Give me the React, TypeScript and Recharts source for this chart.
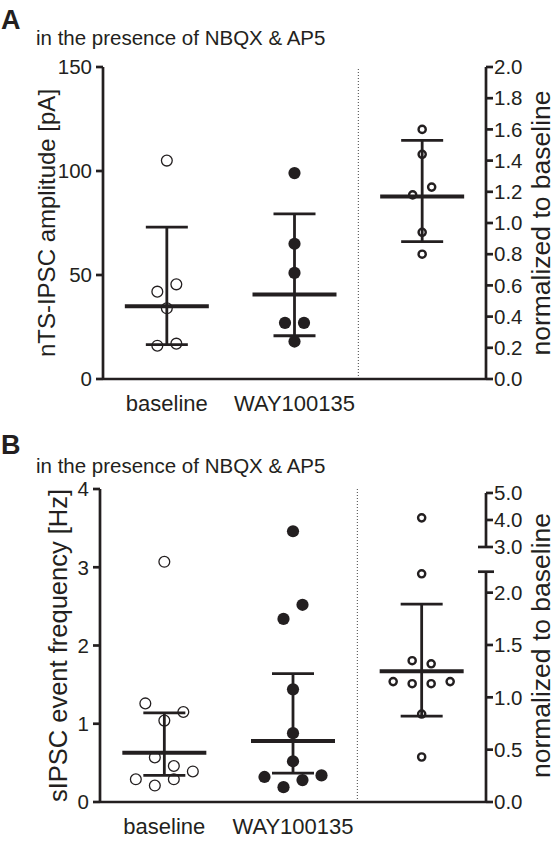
import React from 'react';
import { ComposedChart, Scatter, XAxis, YAxis, ErrorBar, ReferenceLine, Label } from 'recharts';

const INK = '#231f20';
const FONT = "'Liberation Sans', Arial, Helvetica, sans-serif";
const W = 557;

const TITLE = 'in the presence of NBQX & AP5';
const GROUPS = ['baseline', 'WAY100135'];
const RIGHT_LABEL = 'normalized to baseline';

// panel A: nTS-IPSC amplitude
const A_BASELINE = [105, 42, 45.5, 34, 16, 17];
const A_WAY = [99, 65, 51, 27, 27, 18];
const A_NORM = [1.6, 1.44, 1.18, 1.23, 0.94, 0.8];
const A_CENTER = [35, 40.6, 1.17];
const A_LOW = [16.5, 20.8, 0.88];
const A_HIGH = [73, 79.4, 1.53];
const A_LEFT_TICKS = [0, 50, 100, 150];
const A_RIGHT_TICKS = [0, 0.2, 0.4, 0.6, 0.8, 1, 1.2, 1.4, 1.6, 1.8, 2];

// panel B: sIPSC event frequency
const B_BASELINE = [3.07, 1.26, 1.04, 1.15, 0.29, 0.57, 0.29, 0.39, 0.21, 0.46];
const B_WAY = [3.46, 2.34, 2.52, 1.44, 0.88, 0.32, 0.19, 0.28, 0.34, 0.52];
const B_NORM = [4.08, 2.18, 1.35, 1.32, 1.15, 1.13, 1.13, 1.15, 0.84, 0.43];
const B_CENTER = [0.63, 0.78, 1.25];
const B_LOW = [0.34, 0.37, 0.82];
const B_HIGH = [1.14, 1.64, 1.89];
const B_LEFT_TICKS = [0, 1, 2, 3, 4];
const B_RIGHT_TICKS = [0, 0.5, 1, 1.5, 2, 3, 4, 5];

// broken right axis of panel B (lower part 0-2.2, upper part 3-5 compressed)
const B_LOWER_TOP = 2.2;
const B_UPPER_START = 3;
const B_UPPER_END = 5;
const B_UPPER_POS = 2.436;
const B_UPPER_SCALE = 0.258;
const B_RIGHT_TOP = 2.99;

const toBroken = (v: number) =>
  v <= B_LOWER_TOP + 0.3 ? v : B_UPPER_POS + (v - B_UPPER_START) * B_UPPER_SCALE;
const fromBroken = (d: number) =>
  d <= B_LOWER_TOP + 0.1 ? d : B_UPPER_START + (d - B_UPPER_POS) / B_UPPER_SCALE;
const same = (v: number) => v;

// prism-like scatter layout: close values share a row and spread sideways
function swarm(values: number[], pxPerUnit: number, gap = 15, step = 19, perRow = 4) {
  const order = values.map((_, i) => i).sort((a, b) => values[b] - values[a]);
  const clusters: number[][] = [];
  order.forEach((i, k) => {
    if (k === 0 || (values[order[k - 1]] - values[i]) * pxPerUnit > gap) clusters.push([i]);
    else clusters[clusters.length - 1].push(i);
  });
  const dx = values.map(() => 0);
  clusters.forEach((c) => {
    const members = [...c].sort((a, b) => a - b);
    for (let r = 0; r < members.length; r += perRow) {
      const row = members.slice(r, r + perRow);
      row.forEach((i, j) => {
        dx[i] = (j - (row.length - 1) / 2) * step;
      });
    }
  });
  return dx;
}

const points = (vals: number[], x: number, ppu: number, map = same) => {
  const mapped = vals.map(map);
  const dx = swarm(mapped, ppu);
  return mapped.map((y, i) => ({ x, y, dx: dx[i] }));
};

const openDot = (p: any) => (
  <circle cx={p.cx + p.payload.dx} cy={p.cy} r={5.4} fill="none" stroke={INK} strokeWidth={1.3} />
);
const filledDot = (p: any) => <circle cx={p.cx + p.payload.dx} cy={p.cy} r={6.1} fill={INK} />;
const smallDot = (p: any) => (
  <circle cx={p.cx + p.payload.dx} cy={p.cy} r={3.6} fill="none" stroke={INK} strokeWidth={2.4} />
);
const centerLine = (p: any) => (
  <line x1={p.cx - 42} x2={p.cx + 42} y1={p.cy} y2={p.cy} stroke={INK} strokeWidth={4} />
);

const axisStroke = { stroke: INK, strokeWidth: 2.7 };
const tickFont = { fontSize: 20.5, fill: INK };

interface PanelProps {
  height: number;
  marginTop: number;
  xAxisHeight: number;
  leftWidth: number;
  leftDomain: [number, number];
  leftTicks: number[];
  leftLabel: string;
  leftLabelSize: number;
  leftLabelOffset: number;
  rightDomain: [number, number];
  rightTicks: number[];
  rightFormat: (v: number) => string;
  baseline: number[];
  way: number[];
  norm: number[];
  center: number[];
  low: number[];
  high: number[];
  rightMap: (v: number) => number;
  broken?: boolean;
}

function Panel(props: PanelProps) {
  const {
    height, marginTop, xAxisHeight, leftWidth, leftDomain, leftTicks, leftLabel, leftLabelSize,
    leftLabelOffset, rightDomain, rightTicks, rightFormat, baseline, way, norm, center, low, high,
    rightMap, broken,
  } = props;
  const plotH = height - marginTop - 1 - xAxisHeight;
  const ppuL = plotH / (leftDomain[1] - leftDomain[0]);
  const ppuR = plotH / (rightDomain[1] - rightDomain[0]);
  const xPerPx = 3 / (W - leftWidth - 71);

  const leftStats = [0, 1].map((i) => ({
    x: i + 0.5,
    y: center[i],
    err: [center[i] - low[i], high[i] - center[i]],
  }));
  const rightStats = [
    {
      x: 2.5,
      y: rightMap(center[2]),
      err: [rightMap(center[2]) - rightMap(low[2]), rightMap(high[2]) - rightMap(center[2])],
    },
  ];
  const cap = 8 * xPerPx;

  return (
    <ComposedChart width={W} height={height} margin={{ top: marginTop, right: 0, bottom: 1, left: 0 }}>
      <XAxis
        type="number"
        dataKey="x"
        domain={[0, 3]}
        ticks={[0.5, 1.5]}
        interval={0}
        tickFormatter={(v: number) => GROUPS[Math.floor(v)]}
        tickLine={false}
        tickSize={0}
        tickMargin={16}
        height={xAxisHeight}
        axisLine={axisStroke}
        tick={{ fontSize: 22, fill: INK }}
        allowDataOverflow
      />
      <YAxis
        yAxisId="left"
        dataKey="y"
        type="number"
        domain={leftDomain}
        ticks={leftTicks}
        interval={0}
        width={leftWidth}
        tickSize={7}
        tickMargin={4}
        axisLine={axisStroke}
        tickLine={axisStroke}
        tick={tickFont}
        allowDataOverflow
      >
        <Label
          value={leftLabel}
          angle={-90}
          position="insideLeft"
          offset={leftLabelOffset}
          style={{ textAnchor: 'middle', fontSize: leftLabelSize, fill: INK }}
        />
      </YAxis>
      <YAxis
        yAxisId="right"
        orientation="right"
        dataKey="y"
        type="number"
        domain={rightDomain}
        ticks={rightTicks}
        tickFormatter={rightFormat}
        interval={0}
        width={71}
        tickSize={7}
        tickMargin={1}
        axisLine={broken ? false : axisStroke}
        tickLine={axisStroke}
        tick={tickFont}
        allowDataOverflow
      >
        <Label
          value={RIGHT_LABEL}
          angle={-90}
          position="insideRight"
          offset={16}
          style={{ textAnchor: 'middle', fontSize: 26.5, fill: INK }}
        />
      </YAxis>

      <ReferenceLine x={2} yAxisId="left" stroke="#444" strokeWidth={1} strokeDasharray="1 2" />

      {broken && (
        <>
          <ReferenceLine yAxisId="right" segment={[{ x: 3, y: 0 }, { x: 3, y: B_LOWER_TOP }]} stroke={INK} strokeWidth={2.7} ifOverflow="visible" />
          <ReferenceLine yAxisId="right" segment={[{ x: 3 - cap, y: B_LOWER_TOP }, { x: 3 + cap, y: B_LOWER_TOP }]} stroke={INK} strokeWidth={2.7} ifOverflow="visible" />
          <ReferenceLine yAxisId="right" segment={[{ x: 3, y: rightMap(B_UPPER_START) }, { x: 3, y: rightMap(B_UPPER_END) }]} stroke={INK} strokeWidth={2.7} ifOverflow="visible" />
          <ReferenceLine yAxisId="right" segment={[{ x: 3 - cap, y: rightMap(B_UPPER_START) }, { x: 3, y: rightMap(B_UPPER_START) }]} stroke={INK} strokeWidth={2.7} ifOverflow="visible" />
        </>
      )}

      <Scatter yAxisId="left" data={leftStats} dataKey="y" shape={centerLine} isAnimationActive={false}>
        <ErrorBar dataKey="err" direction="y" width={21} stroke={INK} strokeWidth={2.8} />
      </Scatter>
      <Scatter yAxisId="right" data={rightStats} dataKey="y" shape={centerLine} isAnimationActive={false}>
        <ErrorBar dataKey="err" direction="y" width={21} stroke={INK} strokeWidth={2.8} />
      </Scatter>

      <Scatter yAxisId="left" data={points(baseline, 0.5, ppuL)} dataKey="y" shape={openDot} isAnimationActive={false} />
      <Scatter yAxisId="left" data={points(way, 1.5, ppuL)} dataKey="y" shape={filledDot} isAnimationActive={false} />
      <Scatter yAxisId="right" data={points(norm, 2.5, ppuR, rightMap)} dataKey="y" shape={smallDot} isAnimationActive={false} />
    </ComposedChart>
  );
}

export default function App() {
  return (
    <div
      style={{
        position: 'absolute',
        left: 0,
        top: 0,
        width: W,
        height: 841,
        background: '#fff',
        fontFamily: FONT,
        color: INK,
      }}
    >
      <div style={{ position: 'absolute', left: 0, top: 0 }}>
        <Panel
          height={420}
          marginTop={67}
          xAxisHeight={40}
          leftWidth={103}
          leftDomain={[0, 150]}
          leftTicks={A_LEFT_TICKS}
          leftLabel="nTS-IPSC amplitude [pA]"
          leftLabelSize={24}
          leftLabelOffset={46.5}
          rightDomain={[0, 2]}
          rightTicks={A_RIGHT_TICKS}
          rightFormat={(v: number) => v.toFixed(1)}
          baseline={A_BASELINE}
          way={A_WAY}
          norm={A_NORM}
          center={A_CENTER}
          low={A_LOW}
          high={A_HIGH}
          rightMap={same}
        />
      </div>
      <div style={{ position: 'absolute', left: 0, top: 420 }}>
        <Panel
          height={421}
          marginTop={69}
          xAxisHeight={38}
          leftWidth={100}
          leftDomain={[0, 4]}
          leftTicks={B_LEFT_TICKS}
          leftLabel="sIPSC event frequency [Hz]"
          leftLabelSize={25.5}
          leftLabelOffset={57.5}
          rightDomain={[0, B_RIGHT_TOP]}
          rightTicks={B_RIGHT_TICKS.map(toBroken)}
          rightFormat={(v: number) => fromBroken(v).toFixed(1)}
          baseline={B_BASELINE}
          way={B_WAY}
          norm={B_NORM}
          center={B_CENTER}
          low={B_LOW}
          high={B_HIGH}
          rightMap={toBroken}
          broken
        />
      </div>
      <svg
        width={W}
        height={841}
        style={{ position: 'absolute', left: 0, top: 0, pointerEvents: 'none', fontFamily: FONT }}
      >
        <text x={1} y={28.5} fontSize={27} fontWeight="bold" fill={INK}>A</text>
        <text x={36} y={45} fontSize={20.5} fill={INK}>{TITLE}</text>
        <text x={1} y={453.5} fontSize={27} fontWeight="bold" fill={INK}>B</text>
        <text x={36} y={472.7} fontSize={20.5} fill={INK}>{TITLE}</text>
      </svg>
    </div>
  );
}
